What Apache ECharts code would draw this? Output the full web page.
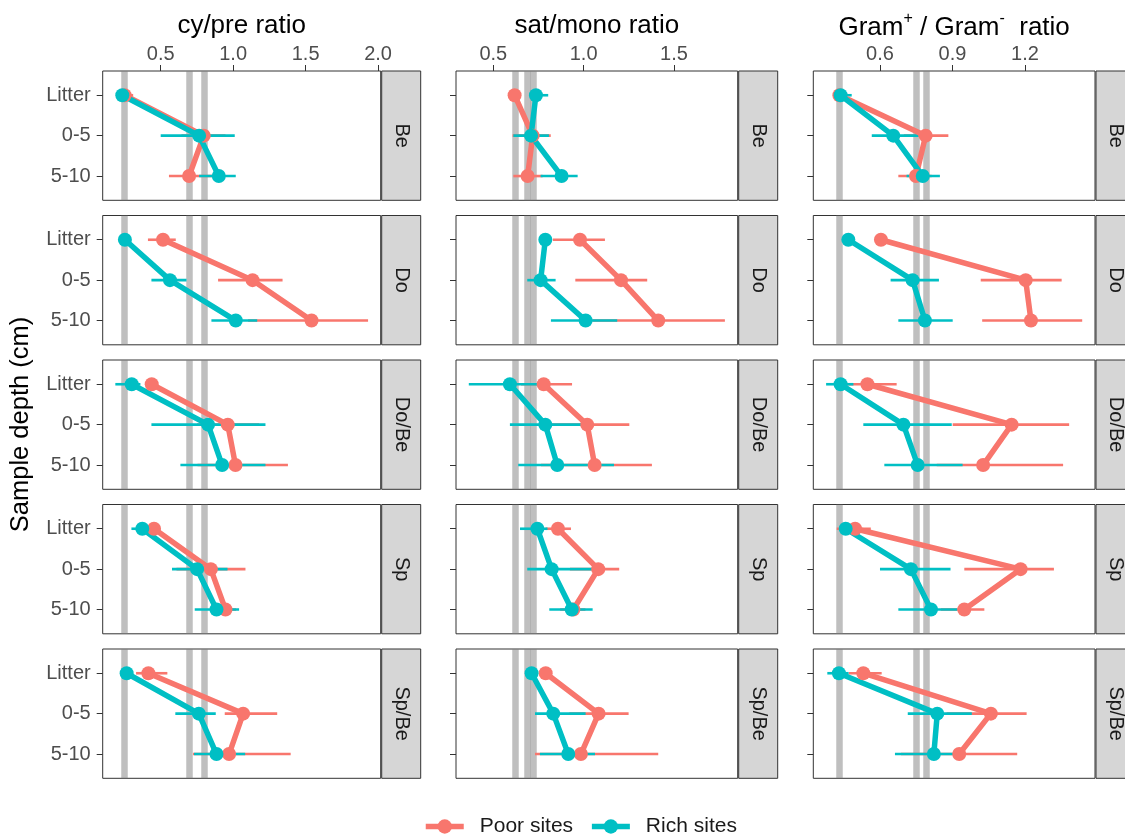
<!DOCTYPE html>
<html><head><meta charset="utf-8">
<script src="https://cdn.jsdelivr.net/npm/echarts@6/dist/echarts.min.js"></script>
<style>html,body{margin:0;padding:0;background:#fff}#c{width:1125px;height:835px}</style>
</head><body><div id="c"></div><script>
// ---------- data ----------
const depths = ['Litter', '0-5', '5-10'];
const sites = ['Be', 'Do', 'Do/Be', 'Sp', 'Sp/Be'];
const groups = ['Poor sites', 'Rich sites'];

// cy/pre ratio (rows = sites, columns = depths)
const cyPrePoorMean = [[0.251, 0.797, 0.696], [0.516, 1.134, 1.541], [0.438, 0.963, 1.016], [0.454, 0.846, 0.947], [0.415, 1.069, 0.972]];
const cyPrePoorLo   = [[0.22, 0.643, 0.557], [0.412, 0.896, 1.103], [0.40, 0.751, 0.754], [0.42, 0.609, 0.87], [0.33, 0.942, 0.723]];
const cyPrePoorHi   = [[0.31, 0.947, 0.857], [0.604, 1.341, 1.931], [0.48, 1.179, 1.378], [0.49, 1.085, 1.02], [0.546, 1.304, 1.397]];
const cyPreRichMean = [[0.235, 0.765, 0.901], [0.253, 0.564, 1.018], [0.30, 0.827, 0.924], [0.373, 0.751, 0.885], [0.265, 0.763, 0.885]];
const cyPreRichLo   = [[0.22, 0.50, 0.765], [0.24, 0.436, 0.85], [0.187, 0.436, 0.636], [0.298, 0.578, 0.735], [0.25, 0.601, 0.73]];
const cyPreRichHi   = [[0.25, 1.011, 1.018], [0.27, 0.678, 1.166], [0.36, 1.223, 1.223], [0.44, 0.961, 1.041], [0.28, 0.88, 1.083]];
const cyPreRef = [0.25, 0.70, 0.795];
const cyPreTicks = [0.5, 1.0, 1.5, 2.0];

// sat/mono ratio
const satMonoPoorMean = [[0.618, 0.718, 0.690], [0.980, 1.207, 1.413], [0.779, 1.020, 1.061], [0.858, 1.081, 0.943], [0.790, 1.083, 0.985]];
const satMonoPoorLo   = [[0.60, 0.607, 0.611], [0.83, 0.954, 1.05], [0.653, 0.80, 0.764], [0.79, 0.924, 0.87], [0.76, 0.921, 0.731]];
const satMonoPoorHi   = [[0.64, 0.818, 0.773], [1.118, 1.352, 1.782], [0.936, 1.253, 1.378], [0.93, 1.197, 1.01], [0.82, 1.249, 1.413]];
const satMonoRichMean = [[0.736, 0.709, 0.878], [0.788, 0.762, 1.011], [0.592, 0.788, 0.854], [0.744, 0.823, 0.934], [0.712, 0.832, 0.915]];
const satMonoRichLo   = [[0.70, 0.611, 0.762], [0.77, 0.688, 0.819], [0.3645, 0.592, 0.638], [0.648, 0.688, 0.810], [0.69, 0.731, 0.758]];
const satMonoRichHi   = [[0.804, 0.808, 0.967], [0.81, 0.845, 1.186], [0.78, 1.02, 1.168], [0.80, 1.053, 1.050], [0.73, 1.011, 1.063]];
const satMonoRef = [0.62, 0.692, 0.718];
const satMonoTicks = [0.5, 1.0, 1.5];

// Gram+ / Gram- ratio
const gramPoorMean = [[0.432, 0.789, 0.749], [0.604, 1.203, 1.225], [0.548, 1.145, 1.027], [0.497, 1.182, 0.949], [0.531, 1.059, 0.928]];
const gramPoorLo   = [[0.42, 0.699, 0.676], [0.59, 1.017, 1.023], [0.45, 0.901, 0.835], [0.421, 0.949, 0.852], [0.47, 0.876, 0.687]];
const gramPoorHi   = [[0.45, 0.883, 0.814], [0.62, 1.352, 1.437], [0.669, 1.383, 1.358], [0.562, 1.320, 1.032], [0.607, 1.207, 1.168]];
const gramRichMean = [[0.437, 0.655, 0.777], [0.469, 0.735, 0.786], [0.437, 0.697, 0.756], [0.458, 0.728, 0.811], [0.430, 0.837, 0.823]];
const gramRichLo   = [[0.42, 0.566, 0.710], [0.46, 0.644, 0.676], [0.377, 0.531, 0.618], [0.44, 0.60, 0.676], [0.382, 0.715, 0.662]];
const gramRichHi   = [[0.483, 0.759, 0.848], [0.48, 0.844, 0.901], [0.49, 0.897, 0.942], [0.47, 0.892, 0.92], [0.47, 0.98, 0.95]];
const gramRef = [0.434, 0.749, 0.789];
const gramTicks = [0.6, 0.9, 1.2];

// ---------- layout / style ----------
const FONT = '"Liberation Sans", Arial, Helvetica, sans-serif';
const COLORS = ['#F8766D', '#00BFC4'];
const colLeft = [102.7, 456, 813.3];
const colWidth = [278, 281.7, 281.7];
const rowTop = [71, 215.5, 360, 504.5, 649];
const rowH = 129.3;
const stripW = 39;

const columns = [
  {ref: cyPreRef, ticks: cyPreTicks,
   g: [[cyPrePoorMean, cyPrePoorLo, cyPrePoorHi], [cyPreRichMean, cyPreRichLo, cyPreRichHi]]},
  {ref: satMonoRef, ticks: satMonoTicks,
   g: [[satMonoPoorMean, satMonoPoorLo, satMonoPoorHi], [satMonoRichMean, satMonoRichLo, satMonoRichHi]]},
  {ref: gramRef, ticks: gramTicks,
   g: [[gramPoorMean, gramPoorLo, gramPoorHi], [gramRichMean, gramRichLo, gramRichHi]]}
];

const grid = [], xAxis = [], yAxis = [], series = [], graphic = [];

columns.forEach((col, c) => {
  // ggplot-like 5% expansion of the data range
  let all = col.ref.slice();
  col.g.forEach(g => { g[1].forEach(r => all.push(...r)); g[2].forEach(r => all.push(...r)); });
  const a = Math.min(...all), b = Math.max(...all);
  const pad = 0.05 * (b - a);
  const xmin = a - pad, xmax = b + pad;

  sites.forEach((site, r) => {
    const idx = c * sites.length + r;
    grid.push({left: colLeft[c], top: rowTop[r], width: colWidth[c], height: rowH,
      show: true, borderColor: '#333333', borderWidth: 1, backgroundColor: '#ffffff',
      containLabel: false, outerBoundsMode: 'none'});
    xAxis.push({type: 'value', gridIndex: idx, position: 'top', min: xmin, max: xmax,
      axisLine: {show: false}, splitLine: {show: false},
      axisTick: {show: r === 0, customValues: col.ticks, length: 6, lineStyle: {color: '#333333', width: 1}},
      axisLabel: {show: r === 0, customValues: col.ticks, margin: 7, fontSize: 20, color: '#4D4D4D',
        fontFamily: FONT, formatter: v => v.toFixed(1)}});
    yAxis.push({type: 'value', gridIndex: idx, min: 0.4, max: 3.6, inverse: true,
      axisLine: {show: false}, splitLine: {show: false},
      axisTick: {show: true, customValues: [1, 2, 3], length: 6, lineStyle: {color: '#333333', width: 1}},
      axisLabel: {show: c === 0, customValues: [1, 2, 3], margin: 12, fontSize: 20, color: '#4D4D4D',
        fontFamily: FONT, formatter: v => depths[Math.round(v) - 1]}});

    // reference lines
    series.push({type: 'line', xAxisIndex: idx, yAxisIndex: idx, data: [], silent: true, z: 1,
      markLine: {z: 1, silent: true, symbol: ['none', 'none'], label: {show: false},
        emphasis: {disabled: true},
        lineStyle: {color: 'rgba(127,127,127,0.5)', width: 6.5, type: 'solid'},
        data: col.ref.map(v => ({xAxis: v}))}});
    // error bars
    col.g.forEach((g, gi) => {
      series.push({type: 'custom', xAxisIndex: idx, yAxisIndex: idx, z: 2, silent: true,
        encode: {x: [0, 1], y: 2},
        data: depths.map((d, i) => [g[1][r][i], g[2][r][i], i + 1]),
        renderItem: (params, api) => {
          const p1 = api.coord([api.value(0), api.value(2)]);
          const p2 = api.coord([api.value(1), api.value(2)]);
          return {type: 'line', shape: {x1: p1[0], y1: p1[1], x2: p2[0], y2: p2[1]},
            style: {stroke: COLORS[gi], lineWidth: 2.6}};
        }});
    });
    // paths
    col.g.forEach((g, gi) => {
      series.push({type: 'line', name: groups[gi], xAxisIndex: idx, yAxisIndex: idx, z: 3,
        data: g[0][r].map((v, i) => [v, i + 1]), symbol: 'circle', showSymbol: false,
        lineStyle: {color: COLORS[gi], width: 5.5}, itemStyle: {color: COLORS[gi]}, silent: true});
    });
    // points
    col.g.forEach((g, gi) => {
      series.push({type: 'scatter', xAxisIndex: idx, yAxisIndex: idx, z: 4,
        data: g[0][r].map((v, i) => [v, i + 1]), symbol: 'circle', symbolSize: 14,
        itemStyle: {color: COLORS[gi], opacity: 1}, silent: true});
    });

    // facet strip
    const sx = colLeft[c] + colWidth[c] + 1;
    graphic.push({type: 'rect', shape: {x: sx, y: rowTop[r], width: stripW, height: rowH},
      style: {fill: '#D6D6D6', stroke: '#333333', lineWidth: 1}, silent: true});
    graphic.push({type: 'text', x: sx + stripW / 2, y: rowTop[r] + rowH / 2, rotation: -Math.PI / 2,
      style: {text: site, fontSize: 20, fontFamily: FONT, fill: '#1A1A1A', align: 'center', verticalAlign: 'middle'},
      silent: true});
  });
});

// column titles
const titleY = 26;
graphic.push({type: 'text', x: colLeft[0] + colWidth[0] / 2, y: titleY,
  style: {text: 'cy/pre ratio', fontSize: 26, fontFamily: FONT, fill: '#000', align: 'center', verticalAlign: 'middle'}});
graphic.push({type: 'text', x: colLeft[1] + colWidth[1] / 2, y: titleY,
  style: {text: 'sat/mono ratio', fontSize: 26, fontFamily: FONT, fill: '#000', align: 'center', verticalAlign: 'middle'}});
graphic.push({type: 'text', x: colLeft[2] + colWidth[2] / 2, y: titleY,
  style: {text: '{n|Gram}{s|+}{n| / Gram}{s|-}{n|  ratio}', fontFamily: FONT, fill: '#000',
    align: 'center', verticalAlign: 'middle',
    rich: {n: {fontSize: 26, fontFamily: FONT, lineHeight: 30, verticalAlign: 'bottom'},
           s: {fontSize: 16, fontFamily: FONT, lineHeight: 16, verticalAlign: 'top'}}}});
// y axis title
graphic.push({type: 'text', x: 21, y: 424.5, rotation: Math.PI / 2,
  style: {text: 'Sample depth (cm)', fontSize: 25.5, fontFamily: FONT, fill: '#000', align: 'center', verticalAlign: 'middle'}});

const chart = echarts.init(document.getElementById('c'), null, {renderer: 'canvas'});
chart.setOption({
  animation: false,
  backgroundColor: '#ffffff',
  textStyle: {fontFamily: FONT},
  grid, xAxis, yAxis, series,
  graphic: {elements: graphic},
  legend: {data: groups, left: 423, top: 816, padding: 0, itemWidth: 38, itemHeight: 18, itemGap: 16,
    selectedMode: false,
    lineStyle: {width: 5.5},
    textStyle: {fontSize: 21, color: '#1A1A1A', fontFamily: FONT, padding: [0, 0, 0, 11]}}
});
</script></body></html>
